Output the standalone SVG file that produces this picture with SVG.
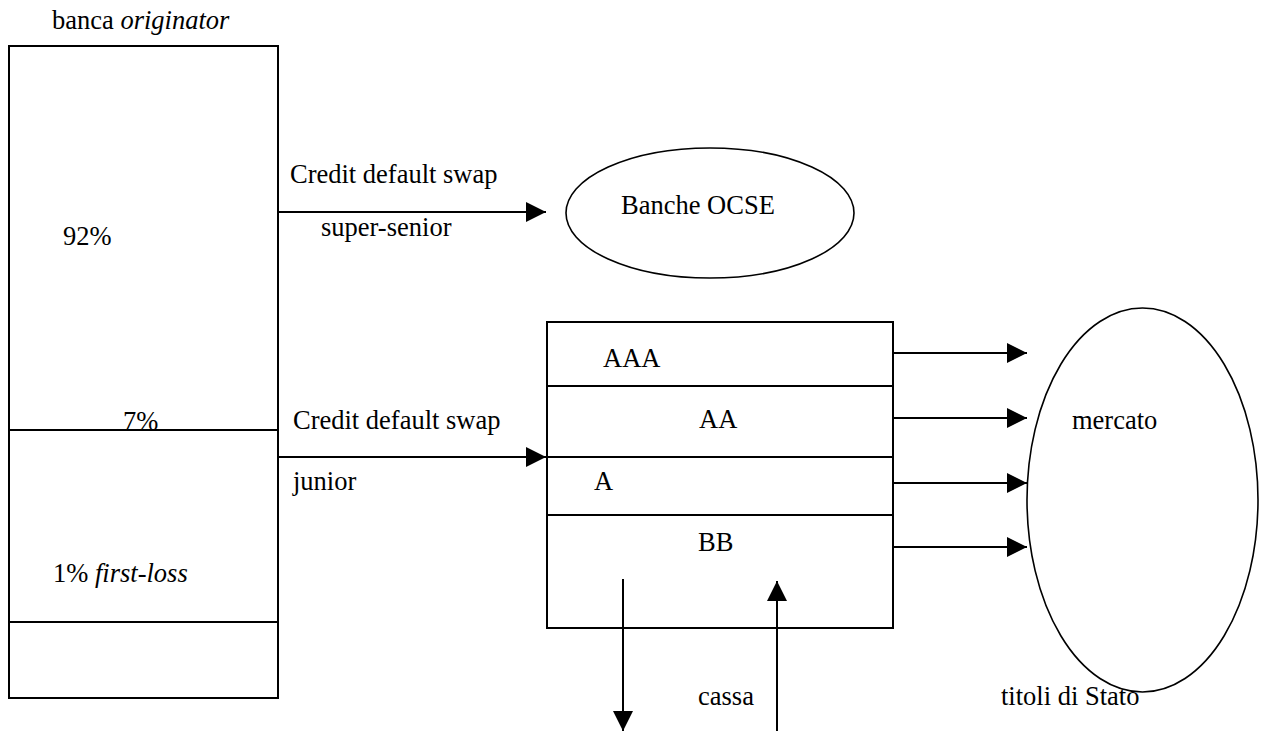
<svg xmlns="http://www.w3.org/2000/svg" width="1266" height="731" viewBox="0 0 1266 731">
<style>
text{font-family:"Liberation Serif","Times New Roman",serif;font-size:26.5px;fill:#000}
.box{fill:none;stroke:#000;stroke-width:2}
.ell{fill:none;stroke:#000;stroke-width:1.6}
.conn{stroke:#000;stroke-width:2;fill:none;marker-end:url(#ah)}
.i{font-style:italic}
</style>
<defs>
<marker id="ah" markerUnits="userSpaceOnUse" markerWidth="20" markerHeight="20" refX="20" refY="10" orient="auto" viewBox="0 0 20 20">
<path d="M0,0 L20,10 L0,20 z" fill="#000"/>
</marker>
</defs>
<rect width="1266" height="731" fill="#fff"/>
<g id="originator">
<text x="52" y="29">banca <tspan class="i">originator</tspan></text>
<rect class="box" x="9" y="46" width="269" height="652"/>
<line class="box" x1="9" y1="430" x2="278" y2="430"/>
<line class="box" x1="9" y1="622" x2="278" y2="622"/>
<text x="63" y="245">92%</text>
<text x="123" y="430">7%</text>
<text x="53" y="582">1% <tspan class="i">first-loss</tspan></text>
</g>
<g id="banche-ocse">
<ellipse class="ell" cx="710" cy="213" rx="144" ry="65"/>
<text x="621" y="214">Banche OCSE</text>
</g>
<g id="tranches">
<rect class="box" x="547" y="322" width="346" height="306"/>
<line class="box" x1="547" y1="386" x2="893" y2="386"/>
<line class="box" x1="547" y1="457" x2="893" y2="457"/>
<line class="box" x1="547" y1="515" x2="893" y2="515"/>
<text x="603" y="367">AAA</text>
<text x="699" y="428">AA</text>
<text x="594" y="490">A</text>
<text x="698" y="551">BB</text>
</g>
<g id="mercato">
<ellipse class="ell" cx="1142.5" cy="500" rx="115.5" ry="192"/>
<text x="1072" y="429">mercato</text>
</g>
<g id="connectors">
<line class="conn" x1="278" y1="212" x2="546" y2="212"/>
<line class="conn" x1="278" y1="457" x2="546" y2="457"/>
<line class="conn" x1="893" y1="353" x2="1027" y2="353"/>
<line class="conn" x1="893" y1="418" x2="1027" y2="418"/>
<line class="conn" x1="893" y1="483" x2="1027" y2="483"/>
<line class="conn" x1="893" y1="547" x2="1027" y2="547"/>
<line class="conn" x1="623" y1="579" x2="623" y2="731"/>
<line class="conn" x1="777" y1="731" x2="777" y2="581"/>
</g>
<g id="labels">
<text x="290" y="183">Credit default swap</text>
<text x="321" y="236">super-senior</text>
<text x="293" y="429">Credit default swap</text>
<text x="293" y="490">junior</text>
<text x="698" y="705">cassa</text>
<text x="1001" y="705">titoli di Stato</text>
</g>
</svg>
